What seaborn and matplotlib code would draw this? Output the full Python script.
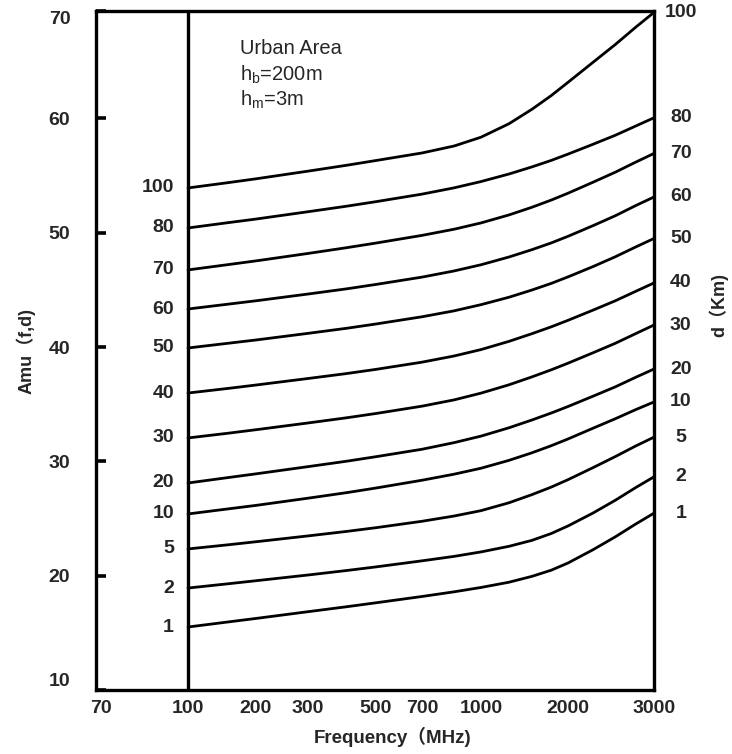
import numpy as np
import pandas as pd
import matplotlib
matplotlib.use("Agg")
import matplotlib.pyplot as plt
import seaborn as sns
from matplotlib.ticker import FixedLocator, NullLocator
from matplotlib.transforms import blended_transform_factory

# ---------------- data ----------------
freq = [100, 150, 200, 300, 400, 500, 700, 850, 1000, 1250, 1500, 1750,
        2000, 2250, 2500, 2750, 3000]

amu_d1 = [15.51, 15.95, 16.26, 16.85, 17.28, 17.63, 18.18, 18.59, 18.97, 19.43,
          19.94, 20.48, 21.11, 22.27, 23.40, 24.51, 25.47]
amu_d2 = [18.92, 19.29, 19.56, 20.06, 20.45, 20.77, 21.30, 21.69, 22.08, 22.57,
          23.09, 23.69, 24.35, 25.48, 26.60, 27.70, 28.65]
amu_d5 = [22.34, 22.70, 22.97, 23.48, 23.87, 24.20, 24.76, 25.22, 25.69, 26.38,
          27.09, 27.75, 28.40, 29.45, 30.42, 31.34, 32.12]
amu_d10 = [25.40, 25.84, 26.15, 26.78, 27.26, 27.67, 28.35, 28.88, 29.40, 30.09,
           30.75, 31.37, 31.96, 32.90, 33.73, 34.52, 35.20]
amu_d20 = [28.11, 28.58, 28.91, 29.54, 30.01, 30.41, 31.06, 31.64, 32.21, 32.94,
           33.62, 34.23, 34.80, 35.70, 36.52, 37.35, 38.08]
amu_d30 = [32.05, 32.46, 32.77, 33.36, 33.81, 34.19, 34.83, 35.38, 35.97, 36.70,
           37.39, 38.01, 38.59, 39.50, 40.33, 41.17, 41.93]
amu_d40 = [35.98, 36.38, 36.68, 37.25, 37.68, 38.05, 38.68, 39.22, 39.78, 40.50,
           41.17, 41.77, 42.34, 43.23, 44.05, 44.87, 45.61]
amu_d50 = [39.92, 40.33, 40.62, 41.20, 41.64, 42.02, 42.65, 43.17, 43.71, 44.36,
           44.99, 45.57, 46.14, 47.04, 47.90, 48.75, 49.50]
amu_d60 = [43.33, 43.75, 44.05, 44.64, 45.09, 45.48, 46.12, 46.66, 47.20, 47.88,
           48.52, 49.11, 49.69, 50.62, 51.49, 52.37, 53.13]
amu_d70 = [46.75, 47.21, 47.54, 48.19, 48.69, 49.10, 49.77, 50.31, 50.86, 51.56,
           52.23, 52.86, 53.46, 54.42, 55.30, 56.17, 56.94]
amu_d80 = [50.42, 50.88, 51.20, 51.84, 52.32, 52.72, 53.38, 53.93, 54.48, 55.14,
           55.76, 56.33, 56.88, 57.74, 58.53, 59.33, 60.06]
amu_d100 = [53.92, 54.38, 54.72, 55.39, 55.90, 56.32, 56.98, 57.59, 58.36, 59.54,
            60.80, 62.00, 63.16, 64.91, 66.47, 67.97, 69.28]

distances = [1, 2, 5, 10, 20, 30, 40, 50, 60, 70, 80, 100]
curves = [amu_d1, amu_d2, amu_d5, amu_d10, amu_d20, amu_d30,
          amu_d40, amu_d50, amu_d60, amu_d70, amu_d80, amu_d100]

x_ticks = [70, 100, 200, 300, 500, 700, 1000, 2000, 3000]
y_ticks = [10, 20, 30, 40, 50, 60]
y_tick_labels = ["10", "20", "30", "40", "50", "60", "70"]

# ---------------- non-uniform frequency axis of the original chart ----------------
axis_freq = np.array([50, 70, 100, 200, 300, 500, 700, 1000, 2000, 3000, 4000], float)
axis_pos = np.array([19, 101, 188, 256, 308, 376, 422, 481, 568, 654, 715], float)
axis_logf = np.log10(axis_freq)


def fwd(f):
    f = np.clip(np.asarray(f, float), 1e-9, None)
    return np.interp(np.log10(f), axis_logf, axis_pos)


def inv(p):
    p = np.asarray(p, float)
    return 10 ** np.interp(p, axis_pos, axis_logf)


rows = []
for d, vals in zip(distances, curves):
    for f, v in zip(freq, vals):
        rows.append({"freq": f, "amu": v, "d": d})
df = pd.DataFrame(rows)

# ---------------- style ----------------
sns.set_style("white")
plt.rcParams["font.family"] = ["Liberation Sans", "Noto Sans CJK SC"]
plt.rcParams["font.weight"] = "normal"
plt.rcParams["mathtext.fontset"] = "custom"
plt.rcParams["mathtext.rm"] = "Liberation Sans"
plt.rcParams["mathtext.it"] = "Liberation Sans"
plt.rcParams["mathtext.bf"] = "Liberation Sans:bold"

fig = plt.figure(figsize=(7.32, 7.54), dpi=100)
ax = fig.add_axes([96 / 732, 1 - 690 / 754, (654 - 96) / 732, (690 - 11) / 754])
ax.set_xscale("function", functions=(fwd, inv))

sns.lineplot(data=df, x="freq", y="amu", hue="d", palette={d: "black" for d in distances},
             legend=False, linewidth=2.0, ax=ax, sort=True)

ax.axvline(100, color="black", linewidth=2.4)

ax.set_xlim(float(inv(96)), 3000)
ax.set_ylim(10, 69.4)

ax.xaxis.set_major_locator(FixedLocator(x_ticks))
ax.xaxis.set_minor_locator(NullLocator())
ax.set_xticklabels([str(t) for t in x_ticks])
ax.yaxis.set_major_locator(FixedLocator(y_ticks + [69.4]))
ax.yaxis.set_minor_locator(NullLocator())
ax.set_yticklabels(y_tick_labels)

ax.tick_params(axis="x", bottom=True, length=0, pad=7, labelsize=14)
ax.tick_params(axis="y", left=True, right=False, direction="in", length=7,
               width=2.6, pad=18.5, labelsize=14, color="black")
for lab in ax.get_xticklabels() + ax.get_yticklabels():
    lab.set_fontweight("bold")
ylabs = ax.get_yticklabels()
ylabs[0].set_va("bottom")
ylabs[-1].set_va("top")

for sp in ax.spines.values():
    sp.set_color("black")
    sp.set_linewidth(2.4)

ax.set_xlabel("")
ax.set_ylabel("")

# curve labels
side_tr = blended_transform_factory(ax.transAxes, ax.transData)
for d, vals in zip(distances, curves):
    ax.text(0.140, vals[0], str(d), transform=side_tr, ha="right", va="center",
            fontsize=14, fontweight="bold")
    ax.text(1.048, vals[-1], str(d), transform=side_tr, ha="center", va="center",
            fontsize=14, fontweight="bold", clip_on=False)

# axis titles
ax.text(-0.125, 0.5, "Amu（f,d)", transform=ax.transAxes, rotation=90,
        ha="center", va="center", fontsize=13, fontweight="bold")
ax.text(0.532, -0.069, "Frequency（MHz)", transform=ax.transAxes,
        ha="center", va="center", fontsize=13.5, fontweight="bold")
ax.text(1.115, 0.567, "d（Km)", transform=ax.transAxes, rotation=90,
        ha="center", va="center", fontsize=13, fontweight="bold")

# annotation
ax.text(0.258, 0.9455, "Urban Area", transform=ax.transAxes, ha="left", va="center",
        fontsize=14.5)
ax.text(0.258, 0.906, r"h$_\mathrm{b}$=200m", transform=ax.transAxes, ha="left",
        va="center", fontsize=14.5)
ax.text(0.258, 0.869, r"h$_\mathrm{m}$=3m", transform=ax.transAxes, ha="left",
        va="center", fontsize=14.5)

fig.savefig("out.png", dpi=100, facecolor="white")
